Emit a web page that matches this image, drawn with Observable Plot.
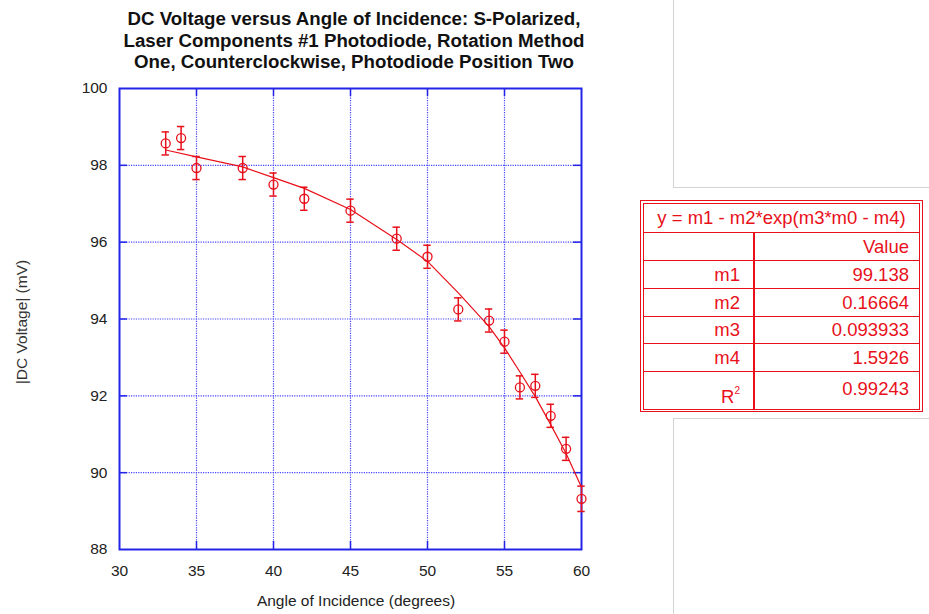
<!DOCTYPE html>
<html>
<head>
<meta charset="utf-8">
<script src="https://cdn.jsdelivr.net/npm/d3@7"></script>
<script src="https://cdn.jsdelivr.net/npm/@observablehq/plot@0.6"></script>
<style>
  html, body { margin: 0; padding: 0; background: #fff; }
  #wrap { position: relative; width: 929px; height: 614px; overflow: hidden; font-family: "Liberation Sans", Arial, sans-serif; }
  #chart { position: absolute; left: 0; top: 0; }
  #title { position: absolute; left: 54px; top: 8px; width: 600px; text-align: center; font-weight: bold; font-size: 18.7px; line-height: 21.5px; color: #111; }
  #xlabel { position: absolute; left: 156px; top: 592px; width: 400px; text-align: center; font-size: 15.5px; line-height: 18px; color: #222; }
  #ylabel { position: absolute; left: 22px; top: 322px; width: 300px; margin-left: -150px; margin-top: -9px; text-align: center; font-size: 15.5px; line-height: 18px; color: #333; transform: rotate(-90deg); }
  .gl { position: absolute; background: #d4d4d4; }
  #fit { position: absolute; left: 640px; top: 200px; width: 283px; height: 212px; box-sizing: border-box; border: 1px solid #e8101a; padding: 2px; }
  #fit table { width: 100%; height: 100%; border-collapse: collapse; border: 1px solid #e8101a; color: #e8101a; font-size: 18.5px; }
  #fit td { border: 1px solid #e8101a; padding: 0 10px 0 0; text-align: right; line-height: 20px; }
  #fit td.lab { width: 96px; border-right: 2px solid #e8101a; padding-right: 13px; }
  #fit td.head { text-align: center; padding: 0; }
  sup { font-size: 10px; vertical-align: 9px; line-height: 0; }
</style>
</head>
<body>
<div id="wrap">
  <div class="gl" style="left:673px;top:0;width:1px;height:187px"></div>
  <div class="gl" style="left:673px;top:187px;width:256px;height:1px"></div>
  <div class="gl" style="left:673px;top:418px;width:256px;height:1px"></div>
  <div class="gl" style="left:673px;top:418px;width:1px;height:196px"></div>
  <div id="chart"></div>
  <div id="title">DC Voltage versus Angle of Incidence: S-Polarized,<br>Laser Components #1 Photodiode, Rotation Method<br>One, Counterclockwise, Photodiode Position Two</div>
  <div id="xlabel">Angle of Incidence (degrees)</div>
  <div id="ylabel">|DC Voltage| (mV)</div>
  <div id="fit"></div>
</div>
<script>
// ---- data ----
const angle   = [33, 34, 35, 38, 40, 42, 45, 48, 50, 52, 54, 55, 56, 57, 58, 59, 60];
const voltage = [98.57, 98.71, 97.93, 97.93, 97.50, 97.13, 96.82, 96.09, 95.62, 94.25, 93.96, 93.41, 92.22, 92.26, 91.48, 90.62, 89.32];
const voltErr = [0.30, 0.30, 0.30, 0.30, 0.30, 0.30, 0.30, 0.30, 0.30, 0.30, 0.30, 0.30, 0.30, 0.30, 0.30, 0.30, 0.33];

const fitAngle   = [33, 35, 38, 40, 42, 45, 48, 50, 52, 54, 55, 56, 57, 58, 59, 60];
const fitVoltage = [98.40, 98.22, 97.96, 97.68, 97.40, 96.85, 96.07, 95.50, 94.68, 93.80, 93.25, 92.62, 91.98, 91.25, 90.50, 89.62];

const xTicks = [30, 35, 40, 45, 50, 55, 60];
const yTicks = [88, 90, 92, 94, 96, 98, 100];
const xDomain = [30, 60];
const yDomain = [88, 100];

const fitTitle = "y = m1 - m2*exp(m3*m0 - m4)";
const fitNames = ["m1", "m2", "m3", "m4"];
const fitValues = ["99.138", "0.16664", "0.093933", "1.5926"];
const r2Value = "0.99243";

// ---- build ----
const points = angle.map((a, i) => ({x: a, y: voltage[i], e: voltErr[i]}));
const curve = fitAngle.map((a, i) => ({x: a, y: fitVoltage[i]}));

const W = 929, H = 614, mL = 119, mR = 348, mT = 88, mB = 65;
const pxX = (xDomain[1] - xDomain[0]) / (W - mL - mR);
const pxY = (yDomain[1] - yDomain[0]) / (H - mT - mB);
const tick = 8, cap = 3.7;

const blue = "#2424e8", gridBlue = "#4646ff", red = "#e8101a";
const inner = xTicks.slice(1, -1), innerY = yTicks.slice(1, -1);

const chart = Plot.plot({
  width: W, height: H,
  marginLeft: mL, marginRight: mR, marginTop: mT, marginBottom: mB,
  x: {domain: xDomain},
  y: {domain: yDomain},
  style: {fontFamily: "'Liberation Sans', Arial, sans-serif", fontSize: "15.5px", background: "transparent", overflow: "visible"},
  marks: [
    Plot.gridX(inner, {stroke: gridBlue, strokeOpacity: 1, strokeWidth: 1.2, strokeDasharray: "1.2,1.2"}),
    Plot.gridY(innerY, {stroke: gridBlue, strokeOpacity: 1, strokeWidth: 1.2, strokeDasharray: "1.2,1.2"}),
    Plot.ruleX(inner, {x: d => d, y1: yDomain[0], y2: yDomain[0] + tick * pxY, stroke: blue, strokeWidth: 1.5}),
    Plot.ruleX(inner, {x: d => d, y1: yDomain[1], y2: yDomain[1] - tick * pxY, stroke: blue, strokeWidth: 1.5}),
    Plot.ruleY(innerY, {y: d => d, x1: xDomain[0], x2: xDomain[0] + tick * pxX, stroke: blue, strokeWidth: 1.5}),
    Plot.ruleY(innerY, {y: d => d, x1: xDomain[1], x2: xDomain[1] - tick * pxX, stroke: blue, strokeWidth: 1.5}),
    Plot.axisX(xTicks, {anchor: "bottom", tickSize: 0, tickPadding: 15, label: null, fill: "#222", tickFormat: d => String(d)}),
    Plot.axisY(yTicks, {anchor: "left", tickSize: 0, tickPadding: 12, label: null, fill: "#222", tickFormat: d => String(d)}),
    Plot.frame({stroke: blue, strokeWidth: 2}),
    Plot.line(curve, {x: "x", y: "y", stroke: red, strokeWidth: 1.2}),
    Plot.ruleX(points, {x: "x", y1: d => d.y - d.e, y2: d => d.y + d.e, stroke: red, strokeWidth: 1.5}),
    Plot.ruleY(points, {y: d => d.y + d.e, x1: d => d.x - cap * pxX, x2: d => d.x + cap * pxX, stroke: red, strokeWidth: 1.5}),
    Plot.ruleY(points, {y: d => d.y - d.e, x1: d => d.x - cap * pxX, x2: d => d.x + cap * pxX, stroke: red, strokeWidth: 1.5}),
    Plot.dot(points, {x: "x", y: "y", r: 4.5, stroke: red, strokeWidth: 1.3, fill: "none"})
  ]
});
document.getElementById("chart").appendChild(chart);

// fit table
const rowH = [29, 28, 28, 28, 27, 28, 38];
let html = `<table><tr style="height:${rowH[0]}px"><td class="head" colspan="2">${fitTitle}</td></tr>`;
html += `<tr style="height:${rowH[1]}px"><td class="lab"></td><td>Value</td></tr>`;
fitNames.forEach((n, i) => {
  html += `<tr style="height:${rowH[i + 2]}px"><td class="lab">${n}</td><td>${fitValues[i]}</td></tr>`;
});
html += `<tr style="height:${rowH[6]}px"><td class="lab" style="vertical-align:bottom;padding-bottom:2px">R<sup>2</sup></td><td style="vertical-align:middle;padding-bottom:4px">${r2Value}</td></tr></table>`;
document.getElementById("fit").innerHTML = html;
</script>
</body>
</html>
